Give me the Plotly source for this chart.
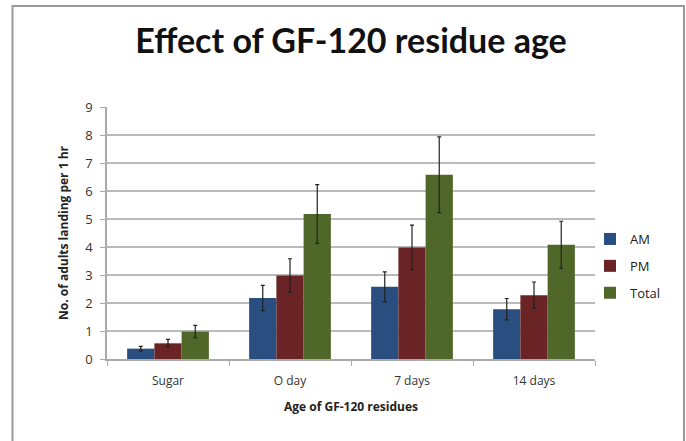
import plotly.graph_objects as go

categories = ["Sugar", "O day", "7 days", "14 days"]
am_values = [0.37, 2.18, 2.58, 1.78]
am_errors = [0.08, 0.45, 0.53, 0.38]
pm_values = [0.56, 2.98, 3.98, 2.28]
pm_errors = [0.14, 0.6, 0.8, 0.47]
total_values = [0.98, 5.18, 6.58, 4.08]
total_errors = [0.22, 1.05, 1.35, 0.84]
y_ticks = [0, 1, 2, 3, 4, 5, 6, 7, 8, 9]

series = [
    ("AM", am_values, am_errors, "#2A4E80"),
    ("PM", pm_values, pm_errors, "#6A2425"),
    ("Total", total_values, total_errors, "#50672A"),
]

fig = go.Figure()
for name, vals, errs, color in series:
    fig.add_trace(go.Bar(
        name=name, x=categories, y=vals, legendgroup=name,
        marker=dict(color=color, line=dict(color=color, width=0)),
        error_y=dict(type="data", array=errs, visible=True,
                     color="#222222", thickness=1.2, width=2),
    ))

W, H = 686, 441
L, R, T, B = 107, 91, 107, 82
pw, ph = W - L - R, H - T - B

def px_to_paper_x(px):
    return (px - L) / pw

def px_to_paper_y(py):
    return (H - B - py) / ph

fig.update_layout(
    width=W, height=H,
    margin=dict(l=L, r=R, t=T, b=B, pad=0),
    paper_bgcolor="white", plot_bgcolor="white",
    barmode="group", bargap=0.33, bargroupgap=0,
    font=dict(family="Open Sans, Lato, sans-serif", color="#222222", size=12),
    title=dict(text="<b>Effect of GF-120 residue age</b>",
               x=0.5, xref="paper", xanchor="center",
               y=1 - 41 / H, yanchor="middle",
               font=dict(family="Lato, Open Sans, sans-serif", size=34, color="#111111")),
    legend=dict(x=px_to_paper_x(590), y=px_to_paper_y(224), xanchor="left", yanchor="top",
                font=dict(size=13, color="#222222"), tracegroupgap=7,
                itemwidth=30, bgcolor="rgba(0,0,0,0)"),
    showlegend=True,
    shapes=[dict(type="rect", xref="paper", yref="paper",
                 x0=px_to_paper_x(12.5), x1=px_to_paper_x(684),
                 y0=px_to_paper_y(448), y1=px_to_paper_y(6),
                 line=dict(color="#999999", width=2), fillcolor="rgba(0,0,0,0)",
                 layer="below")],
)

fig.update_xaxes(
    showline=True, linecolor="#AAAAAA", linewidth=1.5,
    ticks="outside", ticklen=5, tickcolor="#AAAAAA", tickson="boundaries",
    ticklabelstandoff=10,
    showgrid=False,
    title=dict(text="<b>Age of GF-120 residues</b>", standoff=14,
               font=dict(size=12, color="#222222")),
    tickfont=dict(size=12, color="#333333"),
)
fig.update_yaxes(
    range=[0, 9], tickvals=y_ticks, ticktext=[str(v) for v in y_ticks],
    showline=True, linecolor="#AAAAAA", linewidth=1.5,
    ticks="outside", ticklen=5, tickcolor="#AAAAAA",
    ticklabelstandoff=5,
    showgrid=True, gridcolor="#BBBBBB", gridwidth=1.5,
    zeroline=False,
    title=dict(text="<b>No. of adults landing per 1 hr</b>", standoff=14,
               font=dict(size=12, color="#222222")),
    tickfont=dict(size=13, color="#333333"),
)

fig.write_html("out.html", config={"displayModeBar": False},
               post_script="document.body.style.margin='0';")
